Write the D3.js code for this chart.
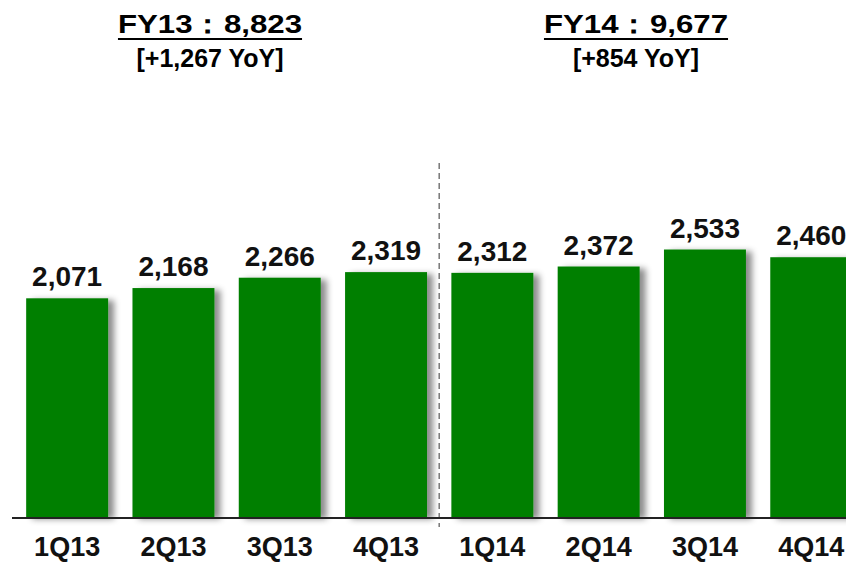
<!DOCTYPE html>
<html>
<head>
<meta charset="utf-8">
<script src="https://cdn.jsdelivr.net/npm/d3@7"></script>
<style>
  html, body { margin: 0; padding: 0; background: #fff; }
  svg { display: block; }
  text { font-family: "Liberation Sans", Arial, sans-serif; font-weight: bold; }
</style>
</head>
<body>
<svg id="chart"></svg>
<script>
// quarters and values
const quarters = ["1Q13", "2Q13", "3Q13", "4Q13", "1Q14", "2Q14", "3Q14", "4Q14"];
const values = [2071, 2168, 2266, 2319, 2312, 2372, 2533, 2460];
// fiscal year headers
const fyNames = ["FY13", "FY14"];
const fyTotals = ["8,823", "9,677"];
const fyYoY = ["+1,267", "+854"];

const width = 846, height = 563;

const svg = d3.select("#chart")
    .attr("width", width)
    .attr("height", height);

// shadow to the right of the bars
const defs = svg.append("defs");
const f = defs.append("filter").attr("id", "shadow")
    .attr("x", "-10%").attr("y", "-10%").attr("width", "130%").attr("height", "120%");
f.append("feDropShadow")
    .attr("dx", 6).attr("dy", 2)
    .attr("stdDeviation", 3)
    .attr("flood-color", "#000")
    .attr("flood-opacity", 0.45);

const x = d3.scaleBand()
    .domain(quarters)
    .range([14, 864.4])
    .paddingInner(0.229)
    .paddingOuter(0.1145);

const y = d3.scaleLinear()
    .domain([0, 4000])
    .range([517, 94.6]);

// bars
svg.append("g").selectAll("rect")
    .data(values)
    .enter().append("rect")
    .attr("x", (d, i) => x(quarters[i]))
    .attr("y", d => y(d))
    .attr("width", x.bandwidth())
    .attr("height", d => y(0) - y(d))
    .attr("fill", "#007f00")
    .style("filter", "url(#shadow)");

// value labels
svg.append("g").selectAll("text")
    .data(values)
    .enter().append("text")
    .attr("x", (d, i) => x(quarters[i]) + x.bandwidth() / 2)
    .attr("y", d => y(d) - 12)
    .attr("text-anchor", "middle")
    .style("font-size", "28px")
    .attr("fill", "#111")
    .text(d => d3.format(",")(d));

// dashed divider between the two years
const divX = (x("4Q13") + x.bandwidth() + x("1Q14")) / 2;
svg.append("line")
    .attr("x1", divX).attr("x2", divX)
    .attr("y1", 163).attr("y2", 527)
    .attr("stroke", "#777")
    .attr("stroke-width", 1.5)
    .attr("stroke-dasharray", "6,4");

// baseline
svg.append("line")
    .attr("x1", 12).attr("x2", width)
    .attr("y1", y(0) + 1).attr("y2", y(0) + 1)
    .attr("stroke", "#222")
    .attr("stroke-width", 2);

// category labels
svg.append("g").selectAll("text")
    .data(quarters)
    .enter().append("text")
    .attr("x", d => x(d) + x.bandwidth() / 2)
    .attr("y", 556)
    .attr("text-anchor", "middle")
    .style("font-size", "27px")
    .attr("fill", "#111")
    .text(d => d);

// year headers
const headerX = [210, 636];
fyNames.forEach((name, i) => {
    const g = svg.append("g")
        .attr("transform", `translate(${headerX[i]},0)`);
    const t = g.append("g").attr("transform", "scale(1.2,1)");
    const title = t.append("text")
        .attr("x", 0).attr("y", 33)
        .attr("text-anchor", "middle")
        .style("font-size", "26px")
        .attr("fill", "#000")
        .text(`${name}：${fyTotals[i]}`);
    const bb = title.node().getBBox();
    t.append("line")
        .attr("x1", bb.x).attr("x2", bb.x + bb.width)
        .attr("y1", 39).attr("y2", 39)
        .attr("stroke", "#000")
        .attr("stroke-width", 2);
    g.append("text")
        .attr("x", 0).attr("y", 67)
        .attr("text-anchor", "middle")
        .style("font-size", "25px")
        .attr("fill", "#000")
        .text(`[${fyYoY[i]} YoY]`);
});
</script>
</body>
</html>
